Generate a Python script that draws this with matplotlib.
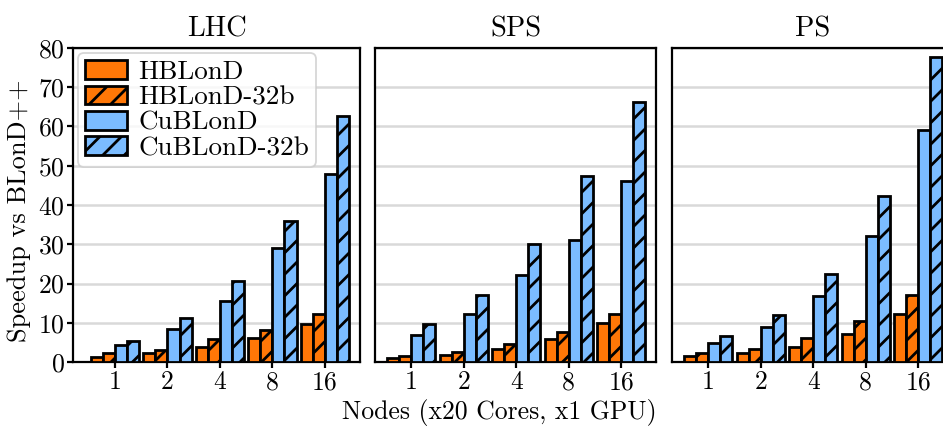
import numpy as np
import matplotlib
matplotlib.use("Agg")
import matplotlib.pyplot as plt
from matplotlib.patches import Patch

# render at a higher dpi so the single "//" hatch spacing matches the original
DPI = 129
S = 100 / DPI  # sizes below are written as if at 100 dpi

plt.rcParams["font.family"] = ["cmr10", "DejaVu Serif"]
plt.rcParams["axes.formatter.use_mathtext"] = True
plt.rcParams["hatch.linewidth"] = 2.0 * S

NODES = ["1", "2", "4", "8", "16"]
SERIES = ["HBLonD", "HBLonD-32b", "CuBLonD", "CuBLonD-32b"]
PANELS = ["LHC", "SPS", "PS"]

LHC_HB = [1.35, 2.2, 3.7, 6.2, 9.8]
LHC_HB32 = [2.2, 3.0, 5.8, 8.2, 12.2]
LHC_CU = [4.3, 8.3, 15.6, 29.0, 47.9]
LHC_CU32 = [5.4, 11.1, 20.7, 36.0, 62.7]

SPS_HB = [1.1, 1.9, 3.4, 5.9, 9.9]
SPS_HB32 = [1.6, 2.6, 4.6, 7.6, 12.3]
SPS_CU = [7.0, 12.2, 22.1, 31.2, 46.2]
SPS_CU32 = [9.8, 17.0, 30.1, 47.5, 66.3]

PS_HB = [1.5, 2.2, 3.7, 7.1, 12.2]
PS_HB32 = [2.2, 3.2, 6.2, 10.4, 17.1]
PS_CU = [4.8, 9.0, 16.9, 32.2, 59.1]
PS_CU32 = [6.5, 12.0, 22.3, 42.4, 77.6]

DATA = {
    "LHC": [LHC_HB, LHC_HB32, LHC_CU, LHC_CU32],
    "SPS": [SPS_HB, SPS_HB32, SPS_CU, SPS_CU32],
    "PS": [PS_HB, PS_HB32, PS_CU, PS_CU32],
}

ORANGE = "#ff7707"
BLUE = "#7bbcff"
COLORS = [ORANGE, ORANGE, BLUE, BLUE]
HATCHES = ["", "//", "", "//"]
WIDTH = 0.23

W, H = 943, 429
fig = plt.figure(figsize=(W / DPI, H / DPI), dpi=DPI)
# (left px, width px, xlim)
BOXES = [(73, 287, (-0.8, 4.67)), (375, 281, (-0.69, 4.66)), (672, 281, (-0.69, 4.66))]
bottom, top = 362, 48

x = np.arange(len(NODES))
for i, name in enumerate(PANELS):
    left, width, xlim = BOXES[i]
    ax = fig.add_axes([left / W, (H - bottom) / H, width / W, (bottom - top) / H])
    for j, vals in enumerate(DATA[name]):
        ax.bar(x + (j - 1.5) * WIDTH, vals, WIDTH, color=COLORS[j], hatch=HATCHES[j],
               edgecolor="black", linewidth=2.0 * S, zorder=3)
    ax.set_xlim(*xlim)
    ax.set_ylim(0, 80)
    ax.set_yticks(np.arange(0, 81, 10))
    ax.set_xticks(x)
    ax.set_xticklabels(NODES)
    ax.yaxis.grid(True, color="#d9d9d9", linewidth=1.8 * S, zorder=0)
    ax.set_axisbelow(True)
    ax.set_title(name, fontsize=20.5 * S, pad=8 * S)
    ax.tick_params(width=1.6 * S, length=4 * S, labelsize=18.5 * S, pad=2 * S)
    for sp in ax.spines.values():
        sp.set_linewidth(1.6 * S)
    if i > 0:
        ax.set_yticklabels([])
        ax.tick_params(axis="y", length=0)
    else:
        handles = [Patch(facecolor=COLORS[j], hatch=HATCHES[j], edgecolor="black",
                         linewidth=2.0 * S, label=SERIES[j]) for j in range(4)]
        ax.legend(handles=handles, loc="upper left", fontsize=19.5 * S, labelspacing=0.05,
                  handlelength=1.55, handleheight=0.7, handletextpad=0.4,
                  borderaxespad=0.2, borderpad=0.25, framealpha=0.8)

fig.text(0.53, 0.008, "Nodes (x20 Cores, x1 GPU)", ha="center", va="bottom", fontsize=18.5 * S)
fig.text(0.008, 0.51, "Speedup vs BLonD++", rotation=90, ha="left", va="center",
         fontsize=19 * S)

fig.savefig("out.png", dpi=DPI)
